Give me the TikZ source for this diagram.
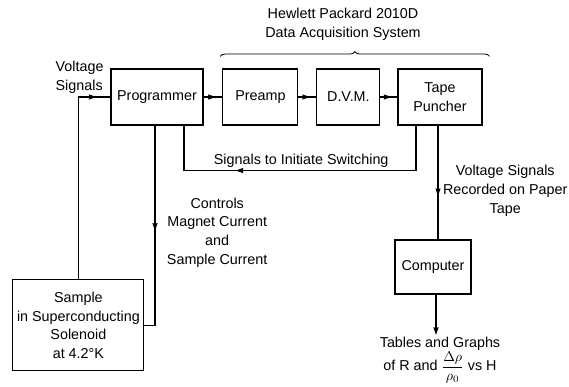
\documentclass[tikz,border=0pt]{standalone}
\usepackage{fontspec}
\setmainfont{Liberation Sans}
\usepackage{amsmath}
\usetikzlibrary{arrows.meta, decorations.pathreplacing, decorations.markings, calc}

\begin{document}
\begin{tikzpicture}[>={Stealth[length=5.5pt, width=3.6pt, inset=0.6pt]},
    blk/.style={draw, thick, align=center, inner sep=2pt, minimum height=1.4cm},
    lbl/.style={align=center, inner sep=1pt},
    midarrow/.style={decoration={markings, mark=at position #1 with {\arrow{>}}}, postaction={decorate}},
    font=\fontsize{10.2}{13.4}\selectfont]
    \useasboundingbox (0, 0) rectangle (14.225, 9.675);
    %\draw[step=1cm, gray, very thin] (0, 0) grid (14, 9);

    \node[blk, minimum width=2.3cm] (prog) at (3.925, 7.25) {Programmer};
    \node[blk, minimum width=1.875cm] (pre) at (6.51, 7.25) {Preamp};
    \node[blk, minimum width=1.575cm] (dvm) at (8.71, 7.25) {D.V.M.};
    \node[blk, minimum width=2.1cm] (tape) at (11.0, 7.25) {Tape\\Puncher};

    \node[blk, minimum width=3.275cm, minimum height=2.275cm] (sample) at (1.96, 1.54) {Sample\\in Superconducting\\Solenoid\\at 4.2°K};
    \node[blk, minimum width=1.9cm, minimum height=1.35cm] (comp) at (10.825, 3.0) {Computer};

    \node[lbl] (hpsys) at (8.575, 9.06) {Hewlett Packard 2010D\\Data Acquisition System};
    \node[lbl, align=left] (volt) at (1.99, 7.75) {Voltage\\Signals};
    \node[lbl] (switchlbl) at (7.53, 5.65) {Signals to Initiate Switching};
    \node[lbl] (ctrl) at (5.43, 3.86) {Controls\\Magnet Current\\and\\Sample Current};
    \node[lbl] (rec) at (12.63, 4.9) {Voltage Signals\\Recorded on Paper\\Tape};
    \node[lbl, anchor=north] (tables) at (11.0, 1.3) {Tables and Graphs\\of R and $\dfrac{\Delta\rho}{\rho_0}$ vs H};

    \draw[semithick, decorate, decoration={brace, amplitude=0.12cm}] ([shift={(-0.05, 0.3)}]pre.north west) -- ([shift={(0.175, 0.3)}]tape.north east);

    \draw[thick, midarrow=0.65] (prog.east) -- (pre.west);
    \draw[thick, midarrow=0.65] (pre.east) -- (dvm.west);
    \draw[thick, midarrow=0.65] (dvm.east) -- (tape.west);

    \draw[thick, midarrow=0.935] (sample.north) |- (prog.west);
    \draw[thick, midarrow=0.5] ([xshift=-0.05cm]prog.south) |- (sample.east);
    \draw[thick, midarrow=0.7] ([xshift=-0.6cm]tape.south) -- ++(0, -1.125) -| ([xshift=0.675cm]prog.south);

    \coordinate (tapeout) at ([xshift=-0.05cm]tape.south);
    \draw[thick, midarrow=0.62] (tapeout) -- (tapeout |- comp.north);
    \draw[thick, ->] ([xshift=0.075cm]comp.south) -- ([xshift=0.075cm]comp.south |- tables.north);

  \end{tikzpicture}
\end{document}
